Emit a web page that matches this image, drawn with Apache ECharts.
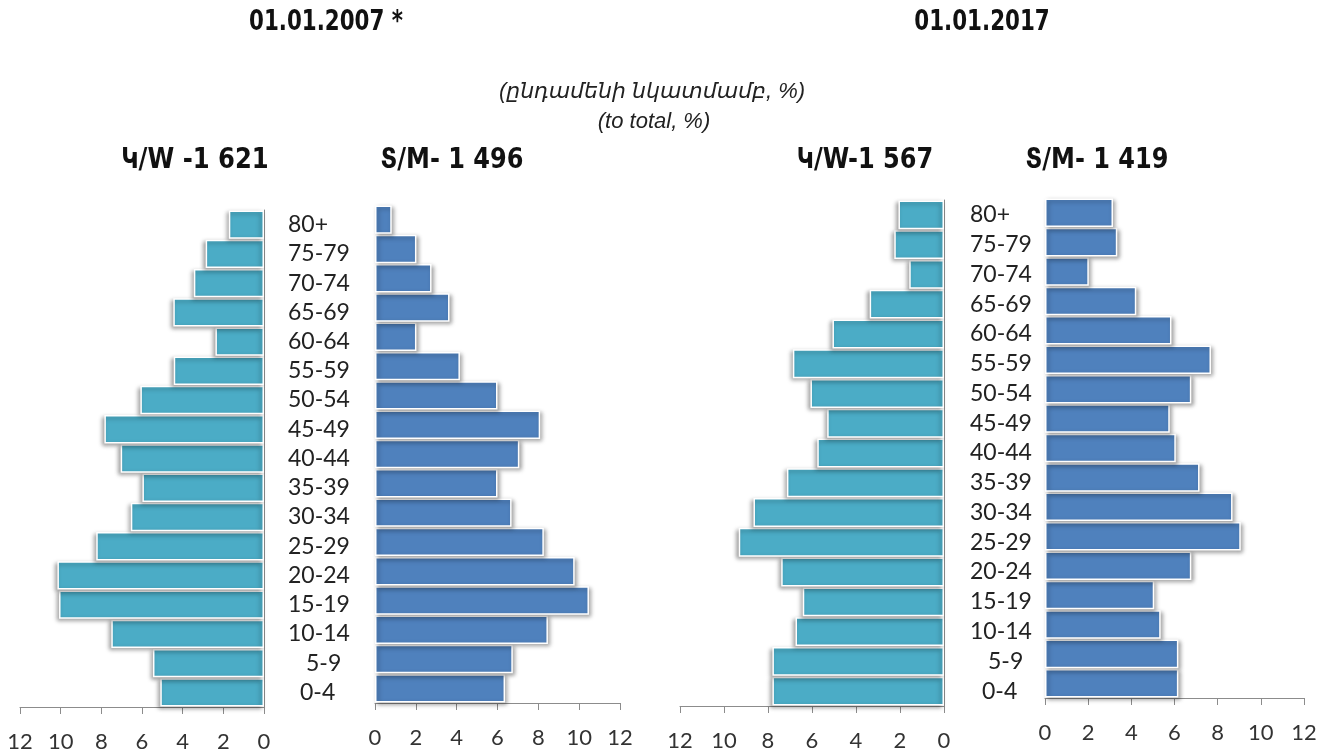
<!DOCTYPE html>
<html>
<head>
<meta charset="utf-8">
<script src="https://cdn.jsdelivr.net/npm/echarts@6/dist/echarts.min.js"></script>
<style>
html,body{margin:0;padding:0;background:#fff;}
#chart{width:1333px;height:753px;}
</style>
</head>
<body>
<div id="chart"></div>
<script>
// Age groups, bottom (0-4) to top (80+)
const ageGroups = ['0-4','5-9','10-14','15-19','20-24','25-29','30-34','35-39','40-44','45-49','50-54','55-59','60-64','65-69','70-74','75-79','80+'];
const women2007 = [5.10, 5.46, 7.51, 10.08, 10.16, 8.25, 6.55, 5.98, 7.05, 7.85, 6.08, 4.44, 2.39, 4.46, 3.45, 2.87, 1.73];
const men2007   = [6.37, 6.75, 8.47, 10.48, 9.78, 8.27, 6.69, 6.00, 7.07, 8.09, 6.00, 4.16, 2.03, 3.65, 2.77, 2.03, 0.82];
const women2017 = [7.80, 7.80, 6.75, 6.42, 7.40, 9.33, 8.66, 7.14, 5.76, 5.31, 6.07, 6.87, 5.07, 3.38, 1.58, 2.26, 2.07];
const men2017   = [6.18, 6.18, 5.36, 5.06, 6.78, 9.07, 8.69, 7.16, 6.06, 5.78, 6.78, 7.69, 5.86, 4.23, 2.03, 3.35, 3.15];
const valueTicks = [0, 2, 4, 6, 8, 10, 12];

const mainTitles = ['01.01.2007 *', '01.01.2017'];
const unitLines = ['(ընդամենի նկատմամբ, %)', '(to total, %)'];
const panelTitles = ['Կ/W -1 621', 'Տ/M- 1 496', 'Կ/W-1 567', 'Տ/M- 1 419'];

const WOMEN_COLOR = '#4BACC6';
const MEN_COLOR = '#4F81BD';
const AXIS_COLOR = '#8c8c8c';
const LABEL_FONT = 'Lato, "Open Sans", sans-serif';
const TITLE_FONT = '"DejaVu Sans Condensed", "DejaVu Sans", sans-serif';

const chart = echarts.init(document.getElementById('chart'), null, {renderer: 'canvas'});

const grids = [
  {left: 20,   right: 1069, top: 210, bottom: 46},
  {left: 375,  right: 713,  top: 205, bottom: 50},
  {left: 680,  right: 389,  top: 200, bottom: 47},
  {left: 1045, right: 29,   top: 198, bottom: 55}
];

function xAxisFor(i, inverse) {
  return {
    type: 'value', gridIndex: i, min: valueTicks[0], max: valueTicks[valueTicks.length - 1],
    interval: valueTicks[1] - valueTicks[0], inverse: inverse,
    axisLine: {show: true, lineStyle: {color: AXIS_COLOR, width: 1}},
    axisTick: {show: true, length: 7, lineStyle: {color: AXIS_COLOR}},
    splitLine: {show: false},
    axisLabel: {color: '#333', fontSize: 22, fontFamily: LABEL_FONT, margin: 24}
  };
}

const padMap = {'5-9': 18, '0-4': 12};
function yAxisFor(i, isWomen) {
  return {
    type: 'category', gridIndex: i, data: ageGroups,
    position: isWomen ? 'right' : 'left',
    axisLine: {show: isWomen, lineStyle: {color: AXIS_COLOR}},
    axisTick: {show: false},
    axisLabel: isWomen ? {
      show: true, interval: 0, align: 'left', margin: i === 0 ? 24 : 26,
      color: '#222', fontSize: 23, fontFamily: LABEL_FONT,
      formatter: v => padMap[v] ? '{p' + padMap[v] + '|' + v + '}' : v,
      rich: {
        p18: {padding: [0, 0, 0, 18], fontSize: 23, fontFamily: LABEL_FONT, color: '#222'},
        p12: {padding: [0, 0, 0, 12], fontSize: 23, fontFamily: LABEL_FONT, color: '#222'}
      }
    } : {show: false}
  };
}

function barSeries(i, data, color, women) {
  return {
    type: 'bar', xAxisIndex: i, yAxisIndex: i, data: data,
    barCategoryGap: '3%',
    itemStyle: {
      color: color, borderColor: '#ffffff', borderWidth: 1.5,
      shadowColor: 'rgba(0,0,0,0.35)', shadowBlur: 4,
      shadowOffsetX: women ? -2 : 2, shadowOffsetY: 2
    },
    emphasis: {disabled: true},
    silent: true
  };
}

function txt(x, y, text, font, color, sx) {
  return {type: 'text', x: x, y: y, scaleX: sx || 1, silent: true,
    style: {text: text, font: font, fill: color || '#111', textAlign: 'center', textVerticalAlign: 'middle'}};
}

chart.setOption({
  animation: false,
  backgroundColor: '#ffffff',
  grid: grids,
  xAxis: [xAxisFor(0, true), xAxisFor(1, false), xAxisFor(2, true), xAxisFor(3, false)],
  yAxis: [yAxisFor(0, true), yAxisFor(1, false), yAxisFor(2, true), yAxisFor(3, false)],
  series: [
    barSeries(0, women2007, WOMEN_COLOR, true),
    barSeries(1, men2007, MEN_COLOR, false),
    barSeries(2, women2017, WOMEN_COLOR, true),
    barSeries(3, men2017, MEN_COLOR, false)
  ],
  graphic: [
    txt(326, 22, mainTitles[0], 'bold 29px ' + TITLE_FONT, '#111', 0.82),
    txt(982, 22, mainTitles[1], 'bold 29px ' + TITLE_FONT, '#111', 0.82),
    txt(652, 92, unitLines[0], 'italic 22px "Liberation Sans", "DejaVu Sans", sans-serif', '#222'),
    txt(654, 122, unitLines[1], 'italic 22px "Liberation Sans", "DejaVu Sans", sans-serif', '#222'),
    txt(195, 160, panelTitles[0], 'bold 29px ' + TITLE_FONT, '#111', 0.93),
    txt(452, 160, panelTitles[1], 'bold 29px ' + TITLE_FONT, '#111', 0.92),
    txt(865, 160, panelTitles[2], 'bold 29px ' + TITLE_FONT, '#111', 0.92),
    txt(1097, 160, panelTitles[3], 'bold 29px ' + TITLE_FONT, '#111', 0.92)
  ]
});
</script>
</body>
</html>
